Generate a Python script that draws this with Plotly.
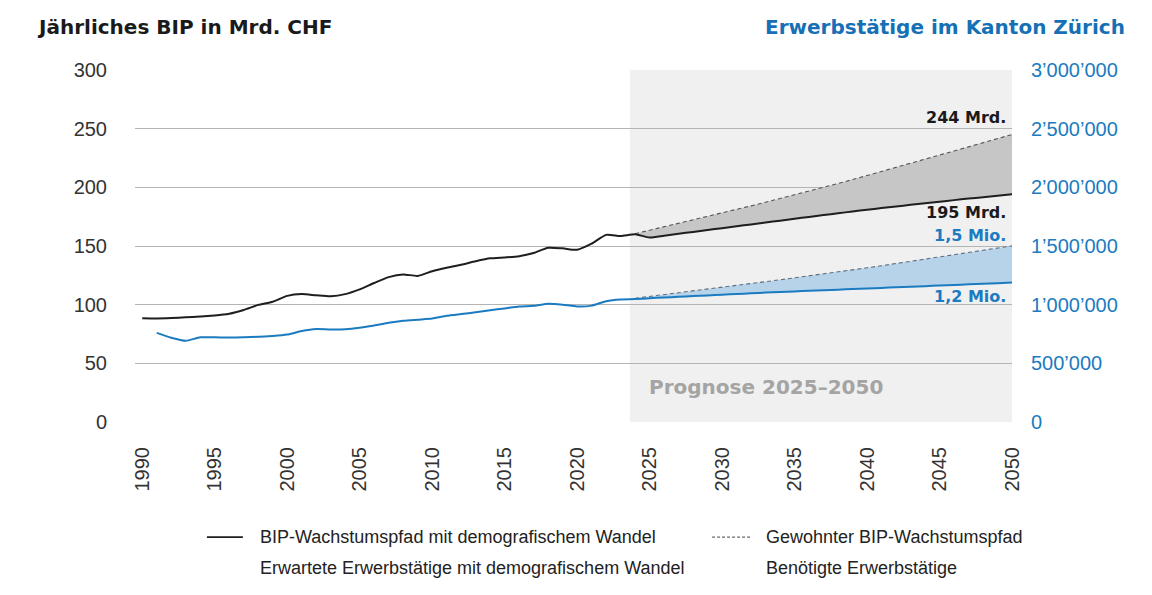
import plotly.graph_objects as go

# ---------------- data ----------------
years_bip = list(range(1990, 2051))
bip_demografie = [
    88.5, 88.3, 88.6, 89.2, 90.0, 90.8, 92.3, 95.5, 99.8, 102.5,
    107.5, 109.0, 108.0, 107.2, 109.0, 113.0, 118.5, 123.5, 125.8, 124.5,
    128.5, 131.5, 134.0, 137.0, 139.5, 140.3, 141.3, 144.0, 148.5, 148.0,
    146.8, 152.0, 159.5, 158.5, 160.0, 157.3, 158.8, 160.4, 162.0, 163.6,
    165.2, 166.8, 168.4, 170.0, 171.6, 173.2, 174.8, 176.4, 177.9, 179.4,
    180.9, 182.3, 183.7, 185.1, 186.5, 187.8, 189.1, 190.4, 191.6, 192.8,
    194.0,
]
years_prog = list(range(2024, 2051))
bip_gewohnt = [
    160.5, 163.4, 166.3, 169.2, 172.1, 175.1, 178.1, 181.1, 184.2, 187.3,
    190.4, 193.6, 196.8, 200.0, 203.3, 206.6, 210.0, 213.4, 216.9, 220.4,
    224.0, 227.6, 231.0, 234.5, 238.0, 241.5, 245.0,
]
years_erw = list(range(1991, 2051))
erwerbstaetige_erwartet = [
    760000, 718000, 692000, 722000, 722000, 720000, 722000, 727000, 733000,
    745000, 775000, 792000, 788000, 790000, 803000, 822000, 845000, 862000, 872000,
    882000, 905000, 920000, 935000, 953000, 968000, 985000, 990000, 1008000, 1000000,
    985000, 992000, 1030000, 1045000, 1048000, 1055000, 1061000, 1067000, 1073000, 1079000,
    1085000, 1091000, 1097000, 1103000, 1108000, 1113000, 1118000, 1123000, 1128000, 1133000,
    1138000, 1143000, 1148000, 1153000, 1158000, 1163000, 1168000, 1173000, 1178000, 1183000,
    1188000,
]
erwerbstaetige_benoetigt = [
    1055000, 1070000, 1085500, 1101000, 1116500, 1132000, 1148000, 1164000, 1180000,
    1196000, 1212000, 1228000, 1244500, 1261000, 1278500, 1296000, 1314000, 1332000,
    1350500, 1369000, 1387500, 1406000, 1425000, 1444000, 1463000, 1482000, 1501000,
]

x_ticks = list(range(1990, 2051, 5))
y_left_ticks = [0, 50, 100, 150, 200, 250, 300]
y_right_ticks = [0, 500000, 1000000, 1500000, 2000000, 2500000, 3000000]
y_right_labels = ["0", "500’000", "1’000’000", "1’500’000", "2’000’000", "2’500’000", "3’000’000"]
forecast_band = [2023.65, 2050]

title_left = "Jährliches BIP in Mrd. CHF"
title_right = "Erwerbstätige im Kanton Zürich"
prognose_text = "Prognose 2025–2050"
legend_labels = [
    "BIP-Wachstumspfad mit demografischem Wandel",
    "Gewohnter BIP-Wachstumspfad",
    "Erwartete Erwerbstätige mit demografischem Wandel",
    "Benötigte Erwerbstätige",
]
end_labels = ["244 Mrd.", "195 Mrd.", "1,5 Mio.", "1,2 Mio."]

# ---------------- styles ----------------
BLACK = "#1e1e1e"
BLUE = "#1b7bc0"
TITLE_BLUE = "#1570b5"
GRID = "#b4b4b4"
HEAVY = "DejaVu Sans"
REG = "Liberation Sans, Arial, sans-serif"

fig = go.Figure()

# BIP forecast fill (base = solid forecast part)
prog_start = years_bip.index(years_prog[0])
fig.add_trace(go.Scatter(
    x=years_prog, y=bip_demografie[prog_start:], mode="lines",
    line=dict(width=0, color="rgba(0,0,0,0)"), showlegend=False, hoverinfo="skip"))
fig.add_trace(go.Scatter(
    x=years_prog, y=bip_gewohnt, mode="lines", fill="tonexty", fillcolor="#c6c6c6",
    line=dict(color="#555555", width=1.1, dash="4px,3px"), showlegend=False))
fig.add_trace(go.Scatter(
    x=years_bip, y=bip_demografie, mode="lines",
    line=dict(color=BLACK, width=2, shape="spline", smoothing=0.6), showlegend=False))

# Erwerbstätige (secondary axis)
erw_start = years_erw.index(years_prog[0])
fig.add_trace(go.Scatter(
    x=years_prog, y=erwerbstaetige_erwartet[erw_start:], mode="lines", yaxis="y2",
    line=dict(width=0, color="rgba(0,0,0,0)"), showlegend=False, hoverinfo="skip"))
fig.add_trace(go.Scatter(
    x=years_prog, y=erwerbstaetige_benoetigt, mode="lines", yaxis="y2",
    fill="tonexty", fillcolor="#b6d3ea",
    line=dict(color="#5d6f80", width=1.1, dash="4px,3px"), showlegend=False))
fig.add_trace(go.Scatter(
    x=years_erw, y=erwerbstaetige_erwartet, mode="lines", yaxis="y2",
    line=dict(color=BLUE, width=2, shape="spline", smoothing=0.6), showlegend=False))

shapes = [
    dict(type="rect", xref="x", yref="paper", x0=forecast_band[0], x1=forecast_band[1],
         y0=0, y1=1, fillcolor="#f0f0f0", line=dict(width=0), layer="below"),
    # legend samples
    dict(type="line", xref="paper", yref="paper", x0=0.082, x1=0.123, y0=-0.327, y1=-0.327,
         line=dict(color=BLACK, width=1.6)),
    dict(type="line", xref="paper", yref="paper", x0=0.658, x1=0.703, y0=-0.327, y1=-0.327,
         line=dict(color="#444444", width=1, dash="3px,2px")),
]

annotations = [
    dict(text=f"<b>{title_left}</b>", xref="paper", yref="paper", x=-0.114, y=1.122,
         xanchor="left", yanchor="middle", showarrow=False,
         font=dict(family=HEAVY, size=20, color="#1a1a1a")),
    dict(text=f"<b>{title_right}</b>", xref="paper", yref="paper", x=1.131, y=1.122,
         xanchor="right", yanchor="middle", showarrow=False,
         font=dict(family=HEAVY, size=20, color=TITLE_BLUE)),
    dict(text=f"<b>{prognose_text}</b>", xref="x", yref="paper", x=forecast_band[0], y=0.099,
         xshift=17, xanchor="left", yanchor="middle", showarrow=False,
         font=dict(family=HEAVY, size=20, color="#a4a4a4")),
    dict(text=f"<b>{end_labels[0]}</b>", xref="x", yref="y", x=years_prog[-1], y=bip_gewohnt[-1],
         xanchor="right", yanchor="middle", xshift=-4, yshift=17, showarrow=False,
         font=dict(family=HEAVY, size=16, color="#1a1a1a")),
    dict(text=f"<b>{end_labels[1]}</b>", xref="x", yref="y", x=years_bip[-1], y=bip_demografie[-1],
         xanchor="right", yanchor="middle", xshift=-4, yshift=-18, showarrow=False,
         font=dict(family=HEAVY, size=16, color="#1a1a1a")),
    dict(text=f"<b>{end_labels[2]}</b>", xref="x", yref="y2", x=years_prog[-1],
         y=erwerbstaetige_benoetigt[-1],
         xanchor="right", yanchor="middle", xshift=-4, yshift=10, showarrow=False,
         font=dict(family=HEAVY, size=16, color=BLUE)),
    dict(text=f"<b>{end_labels[3]}</b>", xref="x", yref="y2", x=years_erw[-1],
         y=erwerbstaetige_erwartet[-1],
         xanchor="right", yanchor="middle", xshift=-4, yshift=-14, showarrow=False,
         font=dict(family=HEAVY, size=16, color=BLUE)),
]
leg_pos = [(0.1403, -0.327), (0.7172, -0.327), (0.1403, -0.415), (0.7172, -0.415)]
for txt, (lx, ly) in zip(legend_labels, leg_pos):
    annotations.append(dict(text=txt, xref="paper", yref="paper", x=lx, y=ly,
                            xanchor="left", yanchor="middle", showarrow=False,
                            font=dict(family=REG, size=18, color="#222222")))

# page body has an 8px default margin, so the figure is 8px smaller and shifted
fig.update_layout(
    width=1144, height=587,
    margin=dict(l=127, r=140, t=62, b=173),
    paper_bgcolor="white", plot_bgcolor="white",
    font=dict(family=REG, color="#333333"),
    showlegend=False,
    xaxis=dict(range=[1989.5, 2050], tickvals=x_ticks, tickangle=-90, showgrid=False,
               zeroline=False, showline=False, ticks="", ticklabelstandoff=20,
               tickfont=dict(family=REG, size=20, color="#333333")),
    yaxis=dict(range=[0, 300], tickvals=y_left_ticks, showgrid=True, gridcolor=GRID,
               gridwidth=1, zeroline=False, showline=False, ticks="", ticklabelstandoff=27,
               tickfont=dict(family=REG, size=20, color="#333333")),
    yaxis2=dict(range=[0, 3000000], overlaying="y", side="right", tickvals=y_right_ticks,
                ticktext=y_right_labels, showgrid=False, zeroline=False, showline=False,
                ticks="", ticklabelstandoff=18,
                tickfont=dict(family=REG, size=20, color=BLUE)),
    shapes=shapes,
    annotations=annotations,
)

fig.write_html("out.html")
